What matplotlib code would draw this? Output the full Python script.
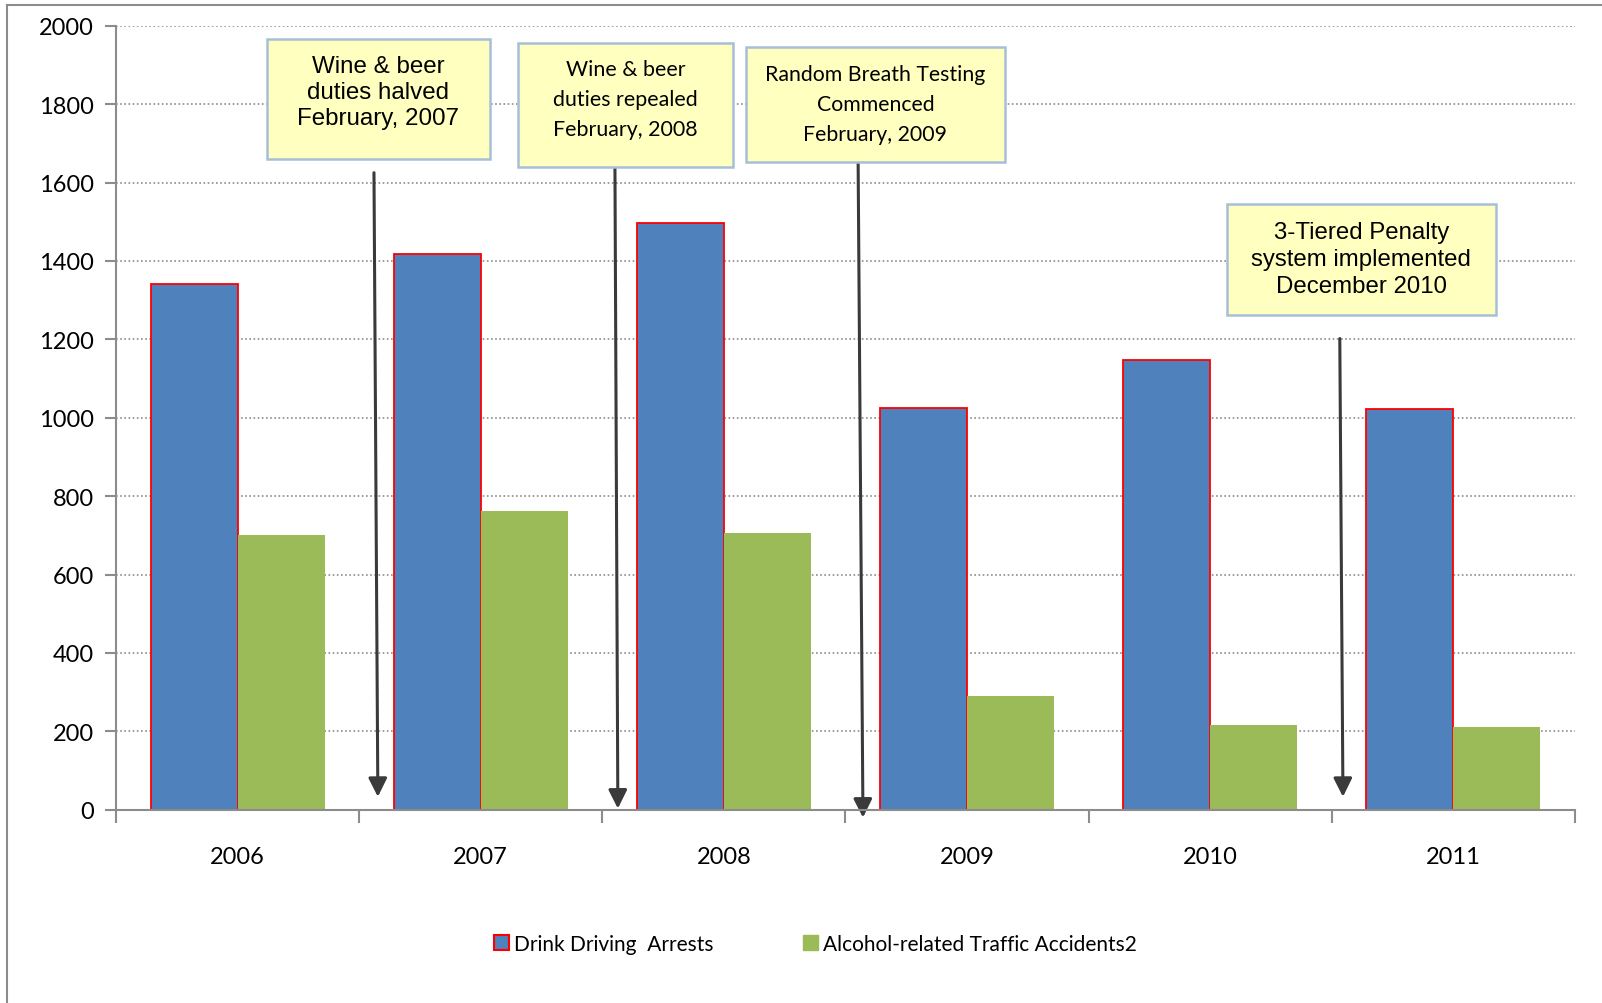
import numpy as np
import matplotlib.pyplot as plt
from matplotlib.patches import Rectangle, Patch
from matplotlib.lines import Line2D

# -------------------------------------------------
# Data
# -------------------------------------------------
years = ["2006", "2007", "2008", "2009", "2010", "2011"]
arrests = [1342, 1418, 1496, 1024, 1146, 1023]
accidents = [700, 762, 705, 290, 217, 211]
series_labels = ["Drink Driving  Arrests", "Alcohol-related Traffic Accidents2"]

# annotation text, box (x0, x1, y0, y1) and arrow (x_start, y_start, x_end, y_end)
notes = [
    ("Wine & beer\nduties halved\nFebruary, 2007", "Liberation Sans", 17.4, 1.24,
     (0.121, 1.038, 1660, 1967), 1830, (0.561, 1625, 0.577, 33)),
    ("Wine & beer\nduties repealed\nFebruary, 2008", "Lato", 15.4, 1.62,
     (1.153, 2.037, 1639, 1957), 1814, (1.552, 1642, 1.564, 3)),
    ("Random Breath Testing\nCommenced\nFebruary, 2009", "Lato", 15.3, 1.62,
     (2.091, 3.156, 1652, 1946), 1801, (2.552, 1660, 2.572, -20)),
    ("3-Tiered Penalty\nsystem implemented\nDecember 2010", "Liberation Sans", 17.3, 1.29,
     (4.069, 5.175, 1261, 1545), 1405, (4.533, 1202, 4.546, 33)),
]

BLUE = "#4F81BD"
GREEN = "#9BBB59"
FONT = "Lato"

# -------------------------------------------------
# Figure
# -------------------------------------------------
fig = plt.figure(figsize=(16.02, 10.04), dpi=100)
ax = fig.add_axes([0.0724, 0.1925, 0.9107, 0.7809])

x = np.arange(len(years))
w = 0.358
ax.bar(x - w / 2, arrests, w, color=BLUE, edgecolor="red", linewidth=1.3, zorder=3)
ax.bar(x + w / 2, accidents, w, color=GREEN, linewidth=0, zorder=3)

ax.set_xlim(-0.5, len(years) - 0.5)
ax.set_ylim(0, 2000)
ax.set_yticks(range(0, 2001, 200))
ax.yaxis.grid(True, linestyle=(0, (1, 1.5)), color="#8c8c8c", linewidth=1.2, zorder=0)

ax.set_xticks(x)
ax.set_xticklabels(years, fontsize=17, fontfamily=FONT)
ax.set_xticks(np.arange(-0.5, len(years)), minor=True)
ax.tick_params(axis="x", which="major", length=0, pad=26)
ax.tick_params(axis="x", which="minor", length=9, width=1.5, color="#8c8c8c")
ax.tick_params(axis="y", length=8, width=1.5, color="#8c8c8c", labelsize=17, pad=8)
for lbl in ax.get_yticklabels():
    lbl.set_fontfamily(FONT)

for side in ["top", "right"]:
    ax.spines[side].set_visible(False)
for side in ["left", "bottom"]:
    ax.spines[side].set_color("#8c8c8c")
    ax.spines[side].set_linewidth(1.5)
    ax.spines[side].set_zorder(4)

# -------------------------------------------------
# Annotation boxes and arrows
# -------------------------------------------------
for text, fam, size, ls, (bx0, bx1, by0, by1), ty, (ax0, ay0, ax1, ay1) in notes:
    ax.add_patch(Rectangle((bx0, by0), bx1 - bx0, by1 - by0, facecolor="#FFFFC0",
                           edgecolor="#A7BED8", linewidth=1.8, zorder=5, clip_on=False))
    ax.text((bx0 + bx1) / 2, ty, text, ha="center", va="center", fontsize=size,
            fontfamily=fam, linespacing=ls, zorder=6, clip_on=False)
    ax.annotate("", xy=(ax1, ay1), xytext=(ax0, ay0), annotation_clip=False,
                arrowprops=dict(arrowstyle="-|>", mutation_scale=28, linewidth=2.2,
                                color="#3a3a3a", shrinkA=0, shrinkB=0), zorder=4)

# -------------------------------------------------
# Legend
# -------------------------------------------------
handles = [Patch(facecolor=BLUE, edgecolor="red", linewidth=1.5),
           Patch(facecolor=GREEN, edgecolor=GREEN)]
fig.legend(handles, series_labels, loc="center", bbox_to_anchor=(0.509, 0.059),
           ncol=2, frameon=False, prop={"family": FONT, "size": 15},
           handlelength=0.7, handleheight=0.8, handletextpad=0.25, columnspacing=4.3)

# outer chart frame (left and top edges only)
fig.add_artist(Line2D([0.0045, 0.0045], [0.0, 0.994], color="#8c8c8c", linewidth=1.5))
fig.add_artist(Line2D([0.0045, 1.0], [0.994, 0.994], color="#8c8c8c", linewidth=1.5))

plt.savefig("out.png", dpi=100)
plt.close()
